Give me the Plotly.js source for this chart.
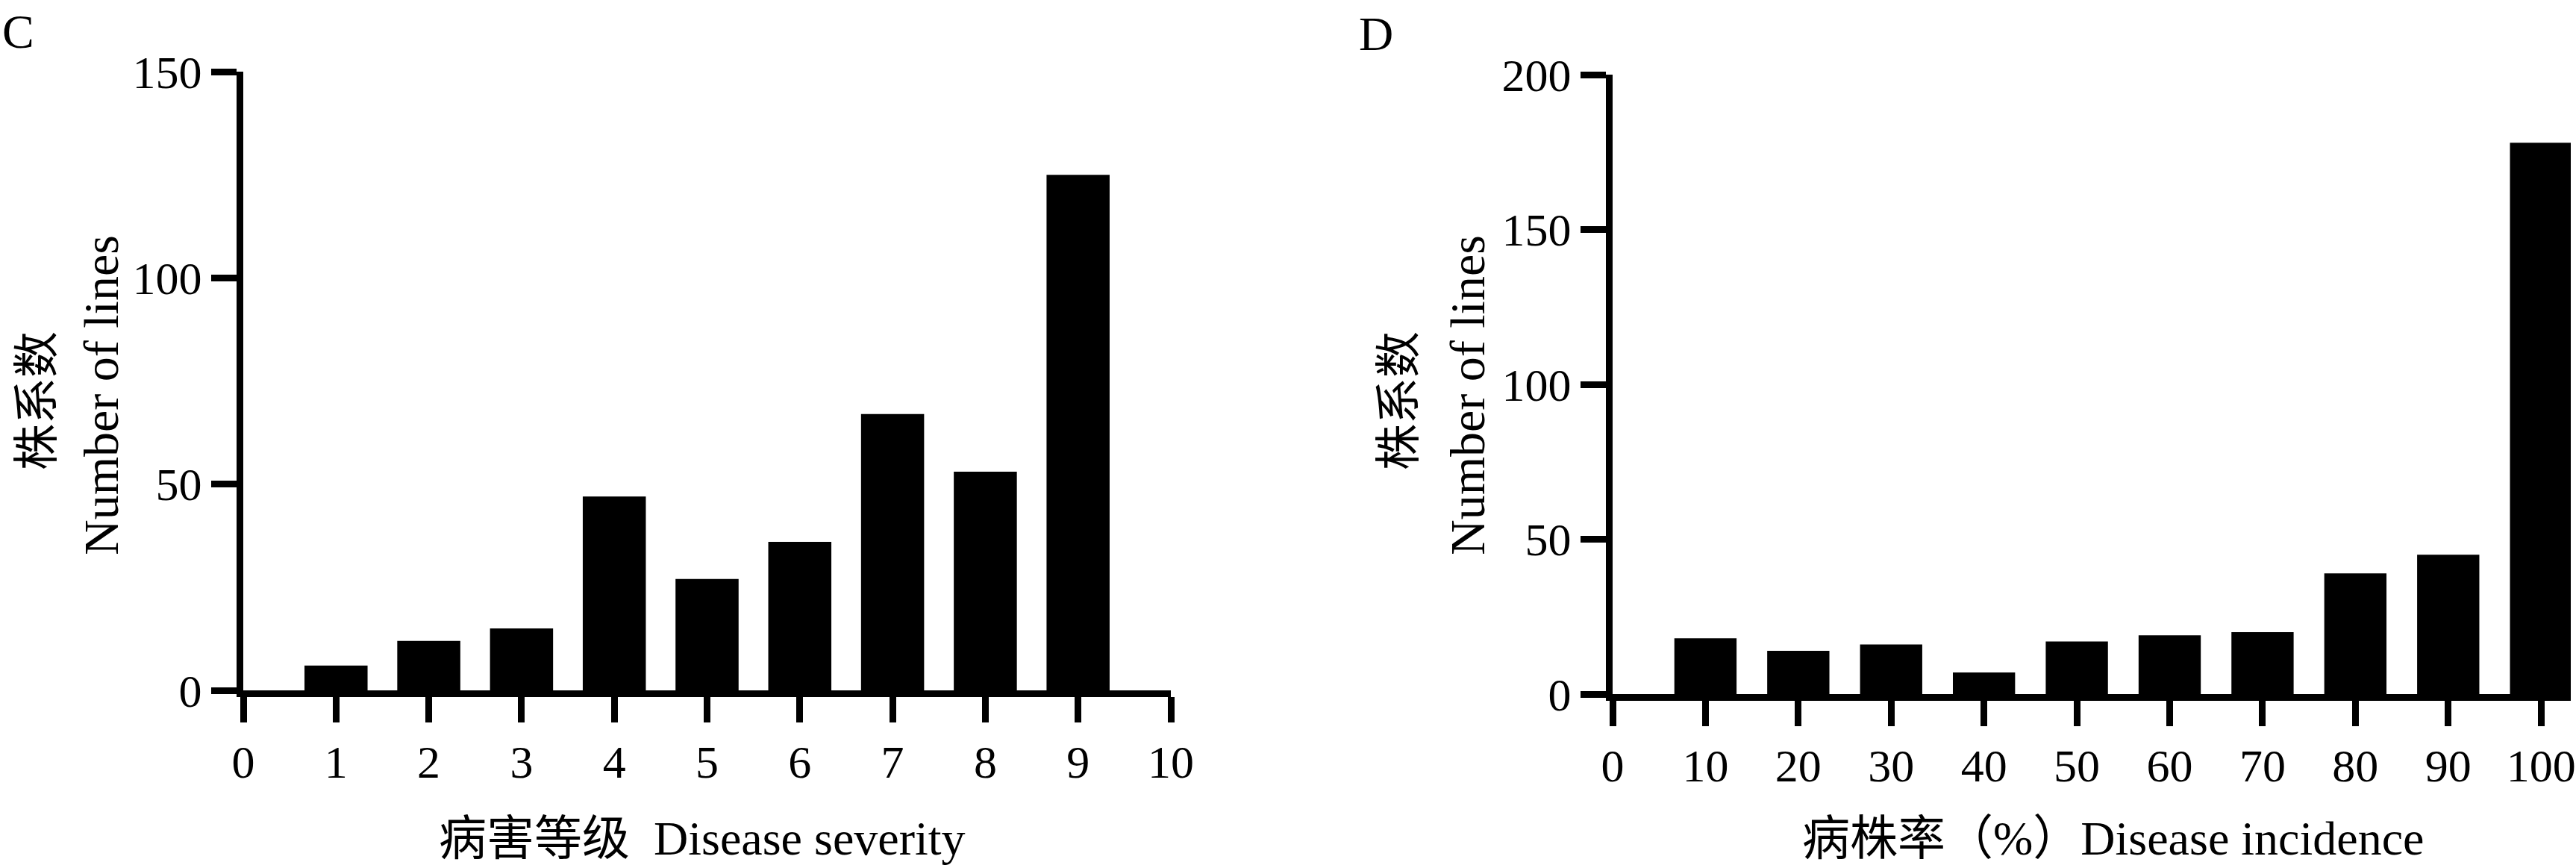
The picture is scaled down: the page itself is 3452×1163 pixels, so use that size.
<!DOCTYPE html>
<html>
<head>
<meta charset="utf-8">
<script src="https://cdn.plot.ly/plotly-3.0.1.min.js"></script>
<style>
  html, body { margin: 0; padding: 0; background: white; }
  #chart { width: 3452px; height: 1163px; }
</style>
</head>
<body>
<div id="chart"></div>
<script>
// panel C: disease severity
var severityLevels = [1, 2, 3, 4, 5, 6, 7, 8, 9];
var severityCounts = [6, 12, 15, 47, 27, 36, 67, 53, 125];
var severityTicks = [0, 1, 2, 3, 4, 5, 6, 7, 8, 9, 10];

// panel D: disease incidence (%)
var incidenceLevels = [10, 20, 30, 40, 50, 60, 70, 80, 90, 100];
var incidenceCounts = [18, 14, 16, 7, 17, 19, 20, 39, 45, 178];
var incidenceTicks = [0, 10, 20, 30, 40, 50, 60, 70, 80, 90, 100];

var W = 3452, H = 1163;
function px(x) { return x / W; }
function py(y) { return 1 - y / H; }

var fontFamily = '"Liberation Serif", "Times New Roman", "Noto Sans CJK SC", serif';
var tickFont = {family: fontFamily, size: 62, color: 'black'};

function axisStyle(extra) {
    var a = {
        showline: true,
        linecolor: 'black',
        linewidth: 9,
        ticks: 'outside',
        ticklen: 34,
        tickwidth: 9,
        tickcolor: 'black',
        showgrid: false,
        zeroline: false,
        tickfont: tickFont,
        fixedrange: true
    };
    for (var k in extra) a[k] = extra[k];
    return a;
}

var plotdata = [
    {
        x: severityLevels,
        y: severityCounts,
        type: 'bar',
        width: 0.68,
        marker: {color: 'black', line: {width: 0}},
        xaxis: 'x',
        yaxis: 'y',
        hoverinfo: 'x+y'
    },
    {
        x: incidenceLevels,
        y: incidenceCounts,
        type: 'bar',
        width: 6.7,
        marker: {color: 'black', line: {width: 0}},
        xaxis: 'x2',
        yaxis: 'y2',
        hoverinfo: 'x+y'
    }
];

function txt(text, x, y, size, angle, xanchor, yanchor) {
    return {
        text: text,
        xref: 'paper', yref: 'paper',
        x: x, y: y,
        xanchor: xanchor || 'center', yanchor: yanchor || 'middle',
        showarrow: false,
        textangle: angle || 0,
        borderpad: 0,
        font: {family: fontFamily, size: size, color: 'black'}
    };
}

var layout = {
    width: W,
    height: H,
    margin: {l: 0, r: 0, t: 0, b: 0},
    paper_bgcolor: 'white',
    plot_bgcolor: 'white',
    showlegend: false,
    xaxis: axisStyle({
        domain: [px(326), px(1569)],
        range: [0, 10],
        tickvals: severityTicks,
        anchor: 'y'
    }),
    yaxis: axisStyle({
        domain: [py(925), py(96)],
        range: [0, 150],
        tickvals: [0, 50, 100, 150],
        anchor: 'x'
    }),
    xaxis2: axisStyle({
        domain: [px(2161), px(3445)],
        range: [0, 103.2],
        tickvals: incidenceTicks,
        anchor: 'y2'
    }),
    yaxis2: axisStyle({
        domain: [py(930), py(100)],
        range: [0, 200],
        tickvals: [0, 50, 100, 150, 200],
        anchor: 'x2'
    }),
    annotations: [
        txt('C', px(2), py(43), 64, 0, 'left'),
        txt('D', px(1820), py(46), 64, 0, 'left'),
        txt('株系数', px(50), py(537), 62, -90),
        txt('Number of lines', px(135), py(530), 66, -90),
        txt('株系数', px(1875), py(537), 62, -90),
        txt('Number of lines', px(1966), py(530), 66, -90),
        txt('病害等级\u00a0\u00a0Disease severity', px(941), py(1160), 64, 0, 'center', 'bottom'),
        txt('病株率（%）Disease incidence', px(2832), py(1160), 64, 0, 'center', 'bottom')
    ]
};

var config = {responsive: false, displayModeBar: false, staticPlot: true};
Plotly.newPlot(document.getElementById('chart'), plotdata, layout, config);
</script>
</body>
</html>
